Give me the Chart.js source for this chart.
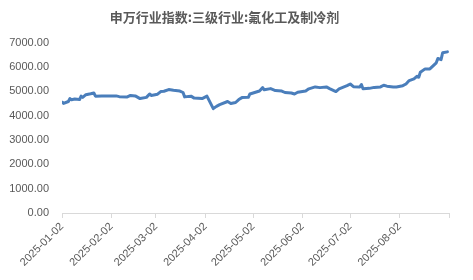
<!DOCTYPE html>
<html>
<head>
<meta charset="utf-8">
<script src="https://cdn.jsdelivr.net/npm/chart.js@4"></script>
<style>
html,body{margin:0;padding:0;background:#fff;}
#wrap{width:473px;height:280px;position:relative;}
</style>
</head>
<body>
<div id="wrap"><canvas id="c" width="473" height="280"></canvas></div>
<script>
const titleText = "申万行业指数:三级行业:氟化工及制冷剂";
const dates = [
"2025-01-02","2025-01-03","2025-01-06","2025-01-07","2025-01-08","2025-01-10","2025-01-13","2025-01-14",
"2025-01-15","2025-01-17","2025-01-20","2025-01-22","2025-01-23","2025-01-27","2025-02-05","2025-02-07",
"2025-02-12","2025-02-14","2025-02-17","2025-02-20","2025-02-24","2025-02-26","2025-02-27","2025-03-03",
"2025-03-05","2025-03-07","2025-03-10","2025-03-13","2025-03-17","2025-03-19","2025-03-20","2025-03-24",
"2025-03-26","2025-03-31","2025-04-03","2025-04-07","2025-04-09","2025-04-11","2025-04-16","2025-04-18",
"2025-04-21","2025-04-23","2025-04-25","2025-04-29","2025-04-30","2025-05-06","2025-05-08","2025-05-09",
"2025-05-13","2025-05-16","2025-05-20","2025-05-22","2025-05-26","2025-05-28","2025-05-30","2025-06-04",
"2025-06-06","2025-06-10","2025-06-13","2025-06-17","2025-06-19","2025-06-23","2025-06-25","2025-06-30",
"2025-07-02","2025-07-04","2025-07-08","2025-07-09","2025-07-10","2025-07-14","2025-07-17","2025-07-21",
"2025-07-23","2025-07-25","2025-07-29","2025-07-31","2025-08-04","2025-08-06","2025-08-08","2025-08-11",
"2025-08-13","2025-08-14","2025-08-15","2025-08-18","2025-08-21","2025-08-25","2025-08-26","2025-08-28",
"2025-08-29","2025-09-01"
];
const values = [
4560,4500,4580,4700,4650,4680,4660,4800,
4750,4860,4900,4930,4800,4810,4810,4780,
4770,4830,4810,4700,4750,4890,4830,4880,
4990,5000,5070,5040,5010,4950,4770,4800,
4720,4700,4800,4290,4380,4450,4580,4500,
4540,4660,4740,4750,4890,5010,5150,5060,
5110,5030,5010,4950,4930,4890,4960,5010,
5100,5180,5150,5180,5110,4990,5100,5230,
5300,5190,5180,5280,5100,5120,5160,5180,
5250,5210,5180,5180,5230,5300,5440,5510,
5620,5580,5780,5920,5920,6170,6350,6300,
6580,6620
];
const tickLabels = ["2025-01-02","2025-02-02","2025-03-02","2025-04-02","2025-05-02","2025-06-02","2025-07-02","2025-08-02"];
const axisStart = "2025-01-02";
const axisEnd = "2025-09-02";
const yTicks = [0,1000,2000,3000,4000,5000,6000,7000];

const DAY = 86400000;
function dayOf(s){ const p=s.split('-').map(Number); return (Date.UTC(p[0],p[1]-1,p[2]) - Date.UTC(2025,0,2))/DAY; }
const points = dates.map((d,i)=>({x:dayOf(d), y:values[i]}));
const tickDays = tickLabels.map(dayOf);
const labelMap = {}; tickLabels.forEach((t,i)=>labelMap[tickDays[i]]=t);
const xMin = dayOf(axisStart), xMax = dayOf(axisEnd);

const FONT = "'Liberation Sans', Arial, sans-serif";
const TXT = '#595959';
const AX = '#d9d9d9';

new Chart(document.getElementById('c'), {
  type: 'line',
  data: { datasets: [{ data: points, borderColor: '#4a7ebb', borderWidth: 3, pointRadius: 0, tension: 0, fill: false, borderJoinStyle:'round', borderCapStyle:'round' }] },
  options: {
    responsive: false, animation: false,
    layout: { padding: { left: 0, right: 24, top: 0, bottom: 0 } },
    plugins: {
      legend: { display: false }, tooltip: { enabled: false },
      title: { display: true, text: titleText, color: TXT,
        font: { family: "'Noto Sans CJK SC', sans-serif", size: 13, weight: 'bold', lineHeight: 1.2 },
        padding: { top: 9, bottom: 18 } }
    },
    scales: {
      x: {
        type: 'linear', min: xMin, max: xMax,
        afterBuildTicks: s => { s.ticks = tickDays.map(v=>({value:v})).concat([{value:xMax}]); },
        afterFit: s => { s.height = 67; },
        ticks: { autoSkip: false, maxRotation: 45, minRotation: 45, color: TXT, padding: 2,
          font: { family: FONT, size: 11 },
          callback: v => labelMap[v] || '' },
        grid: { drawOnChartArea: false, drawTicks: true, tickLength: 5, color: AX },
        border: { display: true, color: AX, width: 1 }
      },
      y: {
        min: 0, max: 7000,
        afterBuildTicks: s => { s.ticks = yTicks.map(v=>({value:v})); },
        afterFit: s => { s.width = 62; },
        ticks: { color: TXT, padding: 13, font: { family: FONT, size: 11 },
          callback: v => Number(v).toFixed(2) },
        grid: { display: false, drawTicks: false },
        border: { display: false }
      }
    }
  }
});
</script>
</body>
</html>
